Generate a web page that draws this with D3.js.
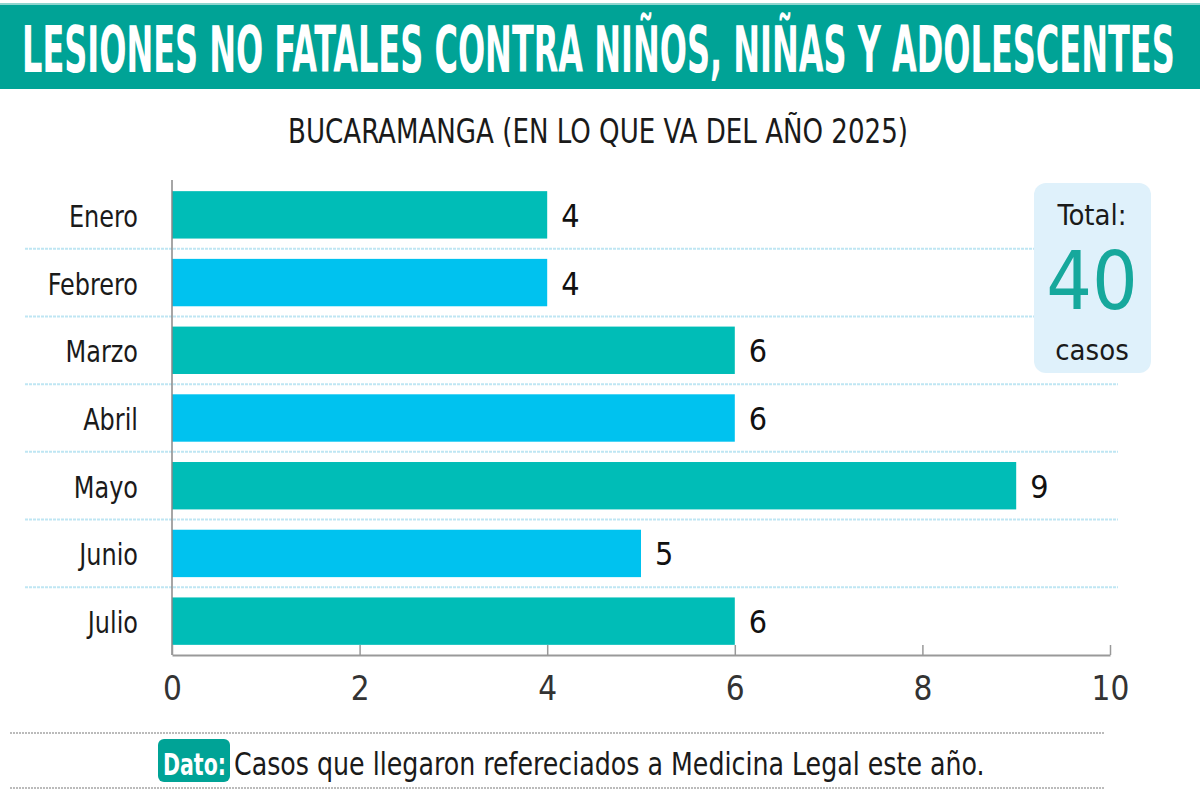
<!DOCTYPE html>
<html>
<head>
<meta charset="utf-8">
<script src="https://cdn.jsdelivr.net/npm/d3@7"></script>
<style>
  body { margin: 0; background: #fff; }
  svg { display: block; }
  text { font-family: "Liberation Sans Narrow", "DejaVu Sans Condensed", "Roboto", sans-serif; }
</style>
</head>
<body>
<div id="bar-chart"></div>
<script>
const months = ["Enero", "Febrero", "Marzo", "Abril", "Mayo", "Junio", "Julio"]
const cases = [4, 4, 6, 6, 9, 5, 6]
const xTicks = [0, 2, 4, 6, 8, 10]
const title = "LESIONES NO FATALES CONTRA NIÑOS, NIÑAS Y ADOLESCENTES"
const subtitle = "BUCARAMANGA (EN LO QUE VA DEL AÑO 2025)"
const totalCases = 40
const note = "Casos que llegaron refereciados a Medicina Legal este año."

const teal = "#00bdb7"
const sky = "#00c2ef"
const banner = "#00a396"

const width = 1200
const height = 799

const svg = d3.select("#bar-chart")
  .append("svg")
    .attr("width", width)
    .attr("height", height)

// squeeze a text horizontally so it spans the given width (narrow face of the original)
const fitWidth = (sel, x, y, w) => {
  const natural = sel.node().getComputedTextLength()
  sel.attr("x", 0).attr("y", 0)
    .attr("transform", `translate(${x}, ${y}) scale(${w / natural}, 1)`)
}

// header
svg.append("rect")
  .attr("x", 0).attr("y", 4).attr("width", width).attr("height", 85)
  .attr("fill", banner)
svg.append("rect")
  .attr("x", 0).attr("y", 3).attr("width", width).attr("height", 2)
  .attr("fill", "#8fd6cf")
const titleText = svg.append("text")
  .text(title)
    .attr("font-size", 64).attr("font-weight", "bold")
    .attr("fill", "#fff")
fitWidth(titleText, 22, 72, 1153)

const subText = svg.append("text")
  .text(subtitle)
    .attr("font-size", 34)
    .attr("fill", "#1a1a1a")
fitWidth(subText, 288, 143, 620)

// scales
const xScale = d3.scaleLinear()
  .domain([0, 10])
  .range([172, 1110])

const yScale = d3.scaleBand()
  .domain(months)
  .range([181, 655])
  .paddingInner(0.3)
  .paddingOuter(0.15)

const data = months.map((m, i) => ({ month: m, value: cases[i] }))

// row separators
const sepY = months.slice(0, -1).map(m => yScale(m) + yScale.bandwidth() + yScale.step() * 0.15)
svg.append("g")
  .selectAll("line")
  .data(sepY)
  .join("line")
    .attr("x1", 25).attr("x2", 1118)
    .attr("y1", d => d).attr("y2", d => d)
    .attr("stroke", "#bfe6f3")
    .attr("stroke-width", 2)
    .attr("stroke-dasharray", "3,1")

// bars
svg.append("g")
  .selectAll("rect")
  .data(data)
  .join("rect")
    .attr("x", xScale(0))
    .attr("y", d => yScale(d.month))
    .attr("width", d => xScale(d.value) - xScale(0))
    .attr("height", yScale.bandwidth())
    .attr("fill", (d, i) => i % 2 === 0 ? teal : sky)

// value labels
svg.append("g")
  .selectAll("text")
  .data(data)
  .join("text")
    .text(d => d.value)
    .attr("x", d => xScale(d.value) + 14)
    .attr("y", d => yScale(d.month) + yScale.bandwidth() / 2 + 12)
    .attr("font-size", 32)
    .attr("fill", "#111")

// category labels
svg.append("g")
  .selectAll("text")
  .data(months)
  .join("text")
    .text(d => d)
    .attr("text-anchor", "end")
    .attr("font-size", 31)
    .attr("fill", "#1a1a1a")
    .attr("transform", d => `translate(138, ${yScale(d) + yScale.bandwidth() / 2 + 12}) scale(0.86, 1)`)

// y axis line
svg.append("line")
  .attr("x1", xScale(0)).attr("x2", xScale(0))
  .attr("y1", 180).attr("y2", 655)
  .attr("stroke", "#888").attr("stroke-width", 1.5)

// x axis
const xAxis = d3.axisBottom(xScale)
  .tickValues(xTicks)
  .tickSize(-10)
  .tickSizeOuter(0)
  .tickPadding(22)
const gx = svg.append("g")
  .attr("class", "axis-x")
  .attr("transform", "translate(0, 655)")
  .call(xAxis)
gx.select(".domain").attr("stroke", "#999").attr("stroke-width", 2)
gx.selectAll(".tick line").attr("stroke", "#999").attr("stroke-width", 1.5)
gx.selectAll(".tick text")
  .attr("font-size", 33)
  .attr("fill", "#333")
  .attr("font-family", "\"Liberation Sans Narrow\", \"DejaVu Sans Condensed\", sans-serif")
  .attr("font-weight", 300)

// total box
svg.append("rect")
  .attr("x", 1034).attr("y", 183).attr("width", 117).attr("height", 190)
  .attr("rx", 12)
  .attr("fill", "#dff1fb")
svg.append("text")
  .text("Total:")
    .attr("x", 1092).attr("y", 225)
    .attr("text-anchor", "middle")
    .attr("font-size", 29).attr("fill", "#1a1a1a")
svg.append("text")
  .text(totalCases)
    .attr("x", 1092).attr("y", 309)
    .attr("text-anchor", "middle")
    .attr("font-size", 80).attr("fill", "#16a89c")
svg.append("text")
  .text("casos")
    .attr("x", 1092).attr("y", 360)
    .attr("text-anchor", "middle")
    .attr("font-size", 29).attr("fill", "#1a1a1a")

// footer
svg.append("g")
  .selectAll("line")
  .data([733, 788])
  .join("line")
    .attr("x1", 10).attr("x2", 1105)
    .attr("y1", d => d).attr("y2", d => d)
    .attr("stroke", "#bbb")
    .attr("stroke-width", 2)
    .attr("stroke-dasharray", "2,1")
svg.append("rect")
  .attr("x", 158).attr("y", 739).attr("width", 72).attr("height", 43)
  .attr("rx", 6)
  .attr("fill", banner)
const datoText = svg.append("text")
  .text("Dato:")
    .attr("font-size", 31).attr("font-weight", "bold")
    .attr("fill", "#fff")
fitWidth(datoText, 163, 775, 63)
const noteText = svg.append("text")
  .text(note)
    .attr("font-size", 32)
    .attr("fill", "#1a1a1a")
fitWidth(noteText, 234, 775, 751)
</script>
</body>
</html>
